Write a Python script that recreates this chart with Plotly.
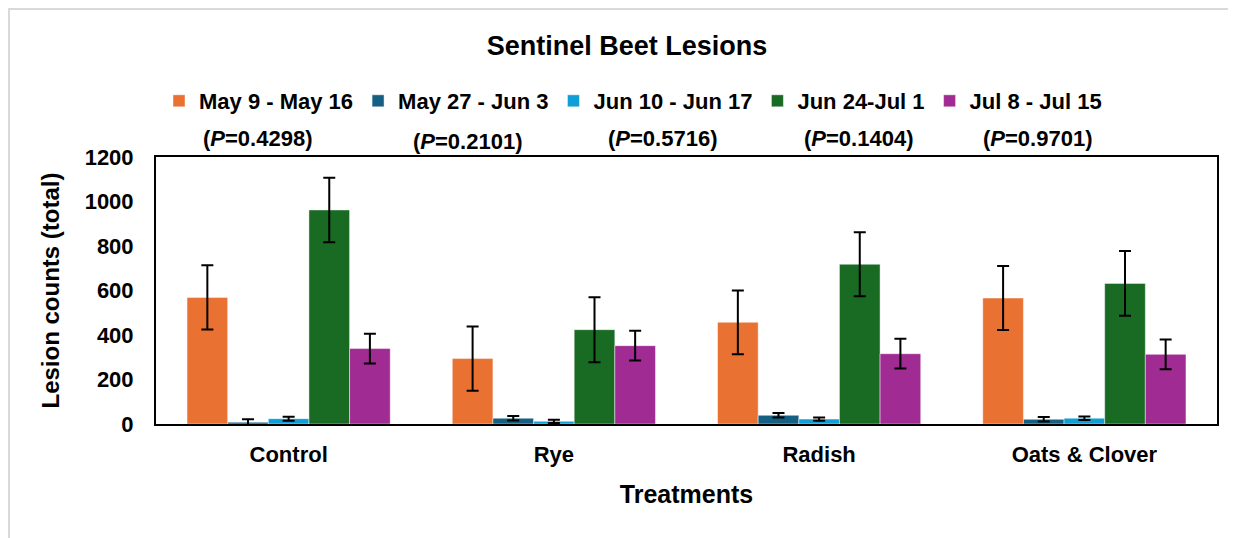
import plotly.graph_objects as go

treatments = ["Control", "Rye", "Radish", "Oats & Clover"]
periods = ["May 9 - May 16", "May 27 - Jun 3", "Jun 10 - Jun 17", "Jun 24-Jul 1", "Jul 8 - Jul 15"]
p_values = ["0.4298", "0.2101", "0.5716", "0.1404", "0.9701"]
colors = ["#E97132", "#156082", "#0F9ED5", "#196B24", "#A02B93"]

may9_16 = [569, 294, 457, 566]
may9_16_err = [144, 144, 143, 144]
may27_jun3 = [8, 26, 39, 21]
may27_jun3_err = [13, 10, 10, 10]
jun10_17 = [24, 12, 22, 26]
jun10_17_err = [9, 7, 7, 8]
jun24_jul1 = [962, 424, 718, 632]
jun24_jul1_err = [145, 146, 144, 145]
jul8_15 = [339, 352, 316, 313]
jul8_15_err = [67, 67, 67, 67]

series = [may9_16, may27_jun3, jun10_17, jun24_jul1, jul8_15]
errors = [may9_16_err, may27_jun3_err, jun10_17_err, jun24_jul1_err, jul8_15_err]

FONT = "Liberation Sans, Arial, sans-serif"

# page body adds an 8px offset; screen-pixel targets below are in page coords
OFF = 8
FW, FH = 1236 - OFF, 538 - OFF
L, T, W, H = 156, 157, 1061, 267  # plot area in screen pixels

fig = go.Figure()
for name, vals, errs, col in zip(periods, series, errors, colors):
    fig.add_trace(go.Bar(
        x=treatments, y=vals, name=name,
        marker=dict(color=col, line=dict(color="rgba(255,255,255,0.45)", width=1)),
        error_y=dict(type="data", array=errs, visible=True, color="black", thickness=2, width=6),
    ))

p_px = [(257, 138), (467, 141), (662, 138), (858, 138), (1037, 138)]
for (px, py), pv in zip(p_px, p_values):
    fig.add_annotation(
        x=(px - L) / W, y=(T + H - py) / H, xref="paper", yref="paper",
        text="<b>(<i>P</i>=" + pv + ")</b>", showarrow=False,
        font=dict(family=FONT, size=22, color="black"),
        xanchor="center", yanchor="middle",
    )

# Outer chart-area border
fig.add_shape(type="rect", xref="paper", yref="paper",
              x0=(9 - L) / W, x1=(1250 - L) / W,
              y0=(T + H - 560) / H, y1=(T + H - 9) / H,
              line=dict(color="#D9D9D9", width=2), fillcolor="rgba(0,0,0,0)", layer="below")

fig.update_layout(
    width=FW, height=FH,
    margin=dict(l=L - OFF, r=FW - (L - OFF) - W, t=T - OFF, b=FH - (T - OFF) - H),
    paper_bgcolor="white", plot_bgcolor="white",
    font=dict(family=FONT, color="black"),
    barmode="group", bargap=0.234, bargroupgap=0,
    title=dict(text="<b>Sentinel Beet Lesions</b>", x=(627 - L) / W, xref="paper", xanchor="center",
               y=1 - (46 - OFF) / FH, yanchor="middle", font=dict(family=FONT, size=27, color="black")),
    legend=dict(orientation="h", x=(633 - L) / W, xanchor="center", y=(T + H - 101) / H, yanchor="middle",
                font=dict(family=FONT, size=22, color="black", weight="bold"),
                bgcolor="rgba(0,0,0,0)", itemclick=False, traceorder="normal"),
    showlegend=True,
)

fig.update_xaxes(
    showline=True, linecolor="black", linewidth=2, mirror=True,
    ticks="", tickfont=dict(family=FONT, size=22, color="black", weight="bold"),
    ticklabelstandoff=10,
    title=dict(text="<b>Treatments</b>", font=dict(family=FONT, size=25, color="black"), standoff=19),
    showgrid=False, zeroline=False,
)
fig.update_yaxes(
    range=[0, 1200], dtick=200, showline=True, linecolor="black", linewidth=2, mirror=True,
    ticks="", tickfont=dict(family=FONT, size=22, color="black", weight="bold"),
    ticklabelstandoff=16,
    title=dict(text="<b>Lesion counts (total)</b>", font=dict(family=FONT, size=24, color="black"), standoff=18),
    showgrid=False, zeroline=False,
)

fig.write_html("out.html")
